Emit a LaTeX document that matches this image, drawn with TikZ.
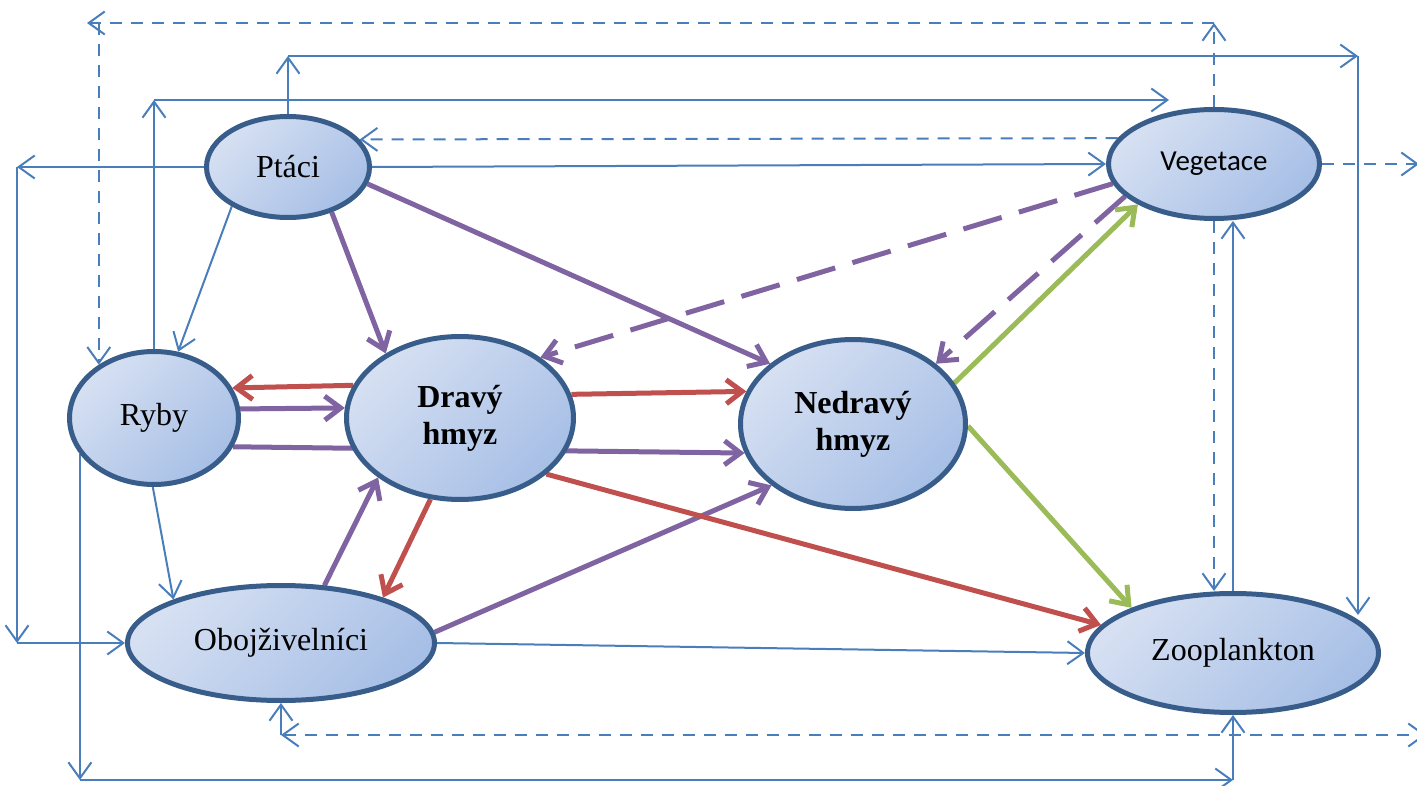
\documentclass[tikz,border=0pt]{standalone}
\usepackage{fontspec}
\setmainfont{Liberation Serif}
\newfontfamily\calfont{Carlito}
\usetikzlibrary{shapes.geometric}
\usetikzlibrary{arrows.meta}
\usetikzlibrary{backgrounds}

\definecolor{lineblue}{RGB}{74,126,187}
\definecolor{rimblue}{RGB}{56,93,138}
\definecolor{filltop}{RGB}{214,224,242}
\definecolor{fillbot}{RGB}{167,191,230}
\definecolor{purp}{RGB}{128,100,162}
\definecolor{redl}{RGB}{192,80,77}
\definecolor{greenl}{RGB}{155,187,89}

\begin{document}
\begin{tikzpicture}[x=1pt, y=-1pt,
   animal/.style={ellipse, draw=rimblue, line width=5pt, top color=filltop, bottom color=fillbot, shading angle=45, inner sep=0pt, align=center},
   nm/.style={font=\fontsize{32}{37}\selectfont},
   bd/.style={font=\fontsize{32}{37}\selectfont\bfseries},
   cal/.style={font=\calfont\fontsize{29}{34}\selectfont},
   bline/.style={draw=lineblue, line width=2pt, >={Straight Barb[length=16pt,width=23pt]}},
   bdash/.style={bline, dash pattern=on 12pt off 9pt},
   pline/.style={draw=purp, line width=5pt, >={Straight Barb[length=16pt,width=24pt]}},
   pdash/.style={pline, dash pattern=on 40pt off 18pt},
   rline/.style={pline, draw=redl},
   gline/.style={pline, draw=greenl}]

 \useasboundingbox (0,0) rectangle (1417,786);

 % ellipses
 \foreach \n/\x/\y/\w/\h/\f/\txt in {ptaci/288/167/163/101/nm/Ptáci,
                                   vege/1214/164/211/109/cal/Vegetace,
                                   ryby/154/418/169/133/nm/Ryby,
                                   drav/460/418/227/163/bd/Dravý\\hmyz,
                                   nedr/853/424/225/169/bd/Nedravý\\hmyz,
                                   oboj/281/643/307/115/nm/Obojživelníci,
                                   zoo/1233/653/291/119/nm/Zooplankton} {
     \node[animal, \f, minimum width=\w pt, minimum height=\h pt] (\n) at (\x,\y) {\txt};
 }

 % corner points
 \coordinate (tt) at (87,23);
 \coordinate (pt) at (288,56);
 \coordinate (pe) at (1358,56);
 \coordinate (rt) at (154,100);
 \coordinate (re) at (1169,100);
 \coordinate (lt) at (17,167);
 \coordinate (lb) at (17,643);
 \coordinate (ve) at (1419,164);
 \coordinate (be) at (1426,735);
 \coordinate (bb) at (0,780);

 \begin{pgfonlayer}{background}
 % purple
 \draw[pline,->] (ptaci.-46) -- (drav.139);
 \draw[pline,->] (ptaci.-12) -- (nedr.144);
 \draw[pline,->] (ryby.6) -- (drav.175);
 \draw[pline,->] (ryby.-20) -- (nedr.195);
 \draw[pdash,->] (vege.191) -- (drav.37);
 \draw[pdash,->] (vege.200) -- (nedr.36);
 \draw[pline,->] (oboj.53) -- (drav.216);
 \draw[pline,->] (oboj.4) -- (nedr.217);

 % red
 \draw[rline,->] (drav.163) -- (ryby.21);
 \draw[rline,->] (drav.12) -- (nedr.163);
 \draw[rline,->] (drav.250) -- (oboj.24);
 \draw[rline,->] (drav.-33) -- (zoo.168);

 % green
 \draw[gline,->] (nedr.22) -- (vege.208);
 \draw[gline,->] (nedr.-1) -- (zoo.156);

 % blue
 \draw[bline,->] (ptaci.215) -- (ryby.70);
 \draw[bline,->] (ryby.269) -- (oboj.158);
 \draw[bline,->] (oboj.east) -- (zoo.west);
 \draw[bline,->] (ptaci.east) -- (vege.west);

 \draw[bline,->] (ptaci.west) -- (lt);
 \draw[bline,->] (lt) -- (lb);
 \draw[bline,->] (lb) -- (oboj.west);

 \draw[bline,->] (ryby.north) -- (rt);
 \draw[bline,->] (rt) -- (re);

 \draw[bline,->] (ptaci.north) -- (pt);
 \draw[bline,->] (pt) -- (pe);
 \draw[bline,->] (pe) -- (pe |- zoo.18);

 \draw[bline,->] (ryby.206) -- (ryby.206 |- bb);
 \draw[bline,->] (ryby.206 |- bb) -- (zoo.south |- bb);
 \draw[bline,->] (zoo.south |- bb) -- (zoo.south);

 \draw[bdash,->] (vege.south) -- (vege.south |- zoo.north);
 \draw[bline,->] (zoo.north) -- (zoo.north |- vege.south);

 % dashed blue
 \draw[bdash,->] (vege.north) -- (vege.north |- tt);
 \draw[bdash,->] (vege.north |- tt) -- (tt);
 \draw[bdash,->] (ryby.136 |- tt) -- (ryby.136);
 \draw[bdash,->] (vege.165) -- (ptaci.21);
 \draw[bdash,->] (vege.east) -- (ve);
 \draw[bdash,<->] (oboj.south |- be) -- (be);
 \draw[bline,->] (oboj.south |- be) -- (oboj.south);
 \end{pgfonlayer}

\end{tikzpicture}
\end{document}
